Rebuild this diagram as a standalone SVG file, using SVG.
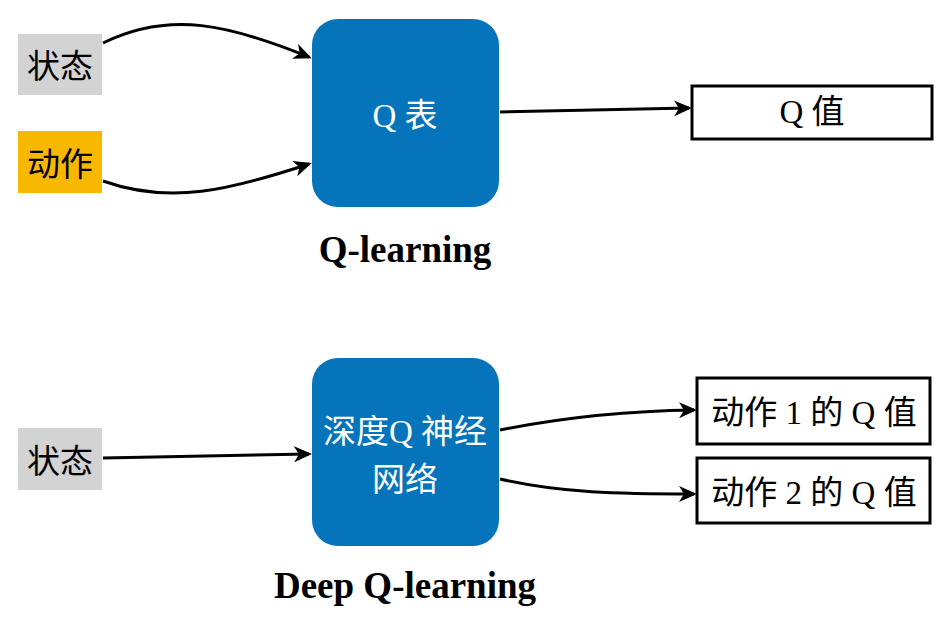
<svg xmlns="http://www.w3.org/2000/svg" width="952" height="629" viewBox="0 0 952 629">
<style>
.lbl{font-family:"Liberation Serif","Noto Sans CJK SC",serif;font-size:33px;fill:#000;text-anchor:middle;dominant-baseline:central}
.wl{font-family:"Liberation Serif","Noto Sans CJK SC",serif;font-size:33px;fill:#fff;text-anchor:middle;dominant-baseline:central}
.ttl{font-family:"Liberation Serif",serif;font-size:37px;font-weight:bold;fill:#000;text-anchor:middle}
.blue{fill:#0574BA}
.out{fill:#fff;stroke:#000;stroke-width:3}
.con{fill:none;stroke:#000;stroke-width:3;marker-end:url(#ah)}
</style>
<defs>
<marker id="ah" viewBox="0 0 18 16" refX="15" refY="8" markerWidth="18" markerHeight="16" markerUnits="userSpaceOnUse" orient="auto">
<path d="M0,0 L18,8 L0,16 L5,8 Z" fill="#000"/>
</marker>
</defs>
<rect width="952" height="629" fill="#fff"/>
<g id="connectors">
<path class="con" d="M103,43 C170,10 230,25 309,57"/>
<path class="con" d="M103,181 C170,205 230,190 309,164"/>
<path class="con" d="M500,112 L689,108"/>
<path class="con" d="M103,458 L309,454"/>
<path class="con" d="M500,430 C560,418 620,411 694,410"/>
<path class="con" d="M500,479 C560,493 620,494 694,494"/>
</g>
<g id="state1">
<rect x="18" y="34" width="84" height="61" fill="#D3D3D3"/>
<text class="lbl" x="60" y="67">状态</text>
</g>
<g id="action1">
<rect x="18" y="131" width="84" height="62" fill="#F9B800"/>
<text class="lbl" x="60" y="165">动作</text>
</g>
<g id="qtable">
<rect class="blue" x="312" y="19" width="187" height="188" rx="26"/>
<text class="wl" x="405" y="116">Q 表</text>
</g>
<g id="qvalue">
<rect class="out" x="692" y="86" width="240" height="53"/>
<text class="lbl" x="812" y="112">Q 值</text>
</g>
<g id="title1">
<text class="ttl" x="405" y="262">Q-learning</text>
</g>
<g id="state2">
<rect x="18" y="428" width="84" height="62" fill="#D3D3D3"/>
<text class="lbl" x="60" y="462">状态</text>
</g>
<g id="dqn">
<rect class="blue" x="312" y="358" width="187" height="188" rx="26"/>
<text class="wl" x="405" y="432">深度Q 神经</text>
<text class="wl" x="405" y="480">网络</text>
</g>
<g id="q1">
<rect class="out" x="697" y="378" width="233" height="66"/>
<text class="lbl" x="814" y="413">动作 1 的 Q 值</text>
</g>
<g id="q2">
<rect class="out" x="697" y="458" width="233" height="65"/>
<text class="lbl" x="814" y="493">动作 2 的 Q 值</text>
</g>
<g id="title2">
<text class="ttl" x="405" y="598">Deep Q-learning</text>
</g>
</svg>
